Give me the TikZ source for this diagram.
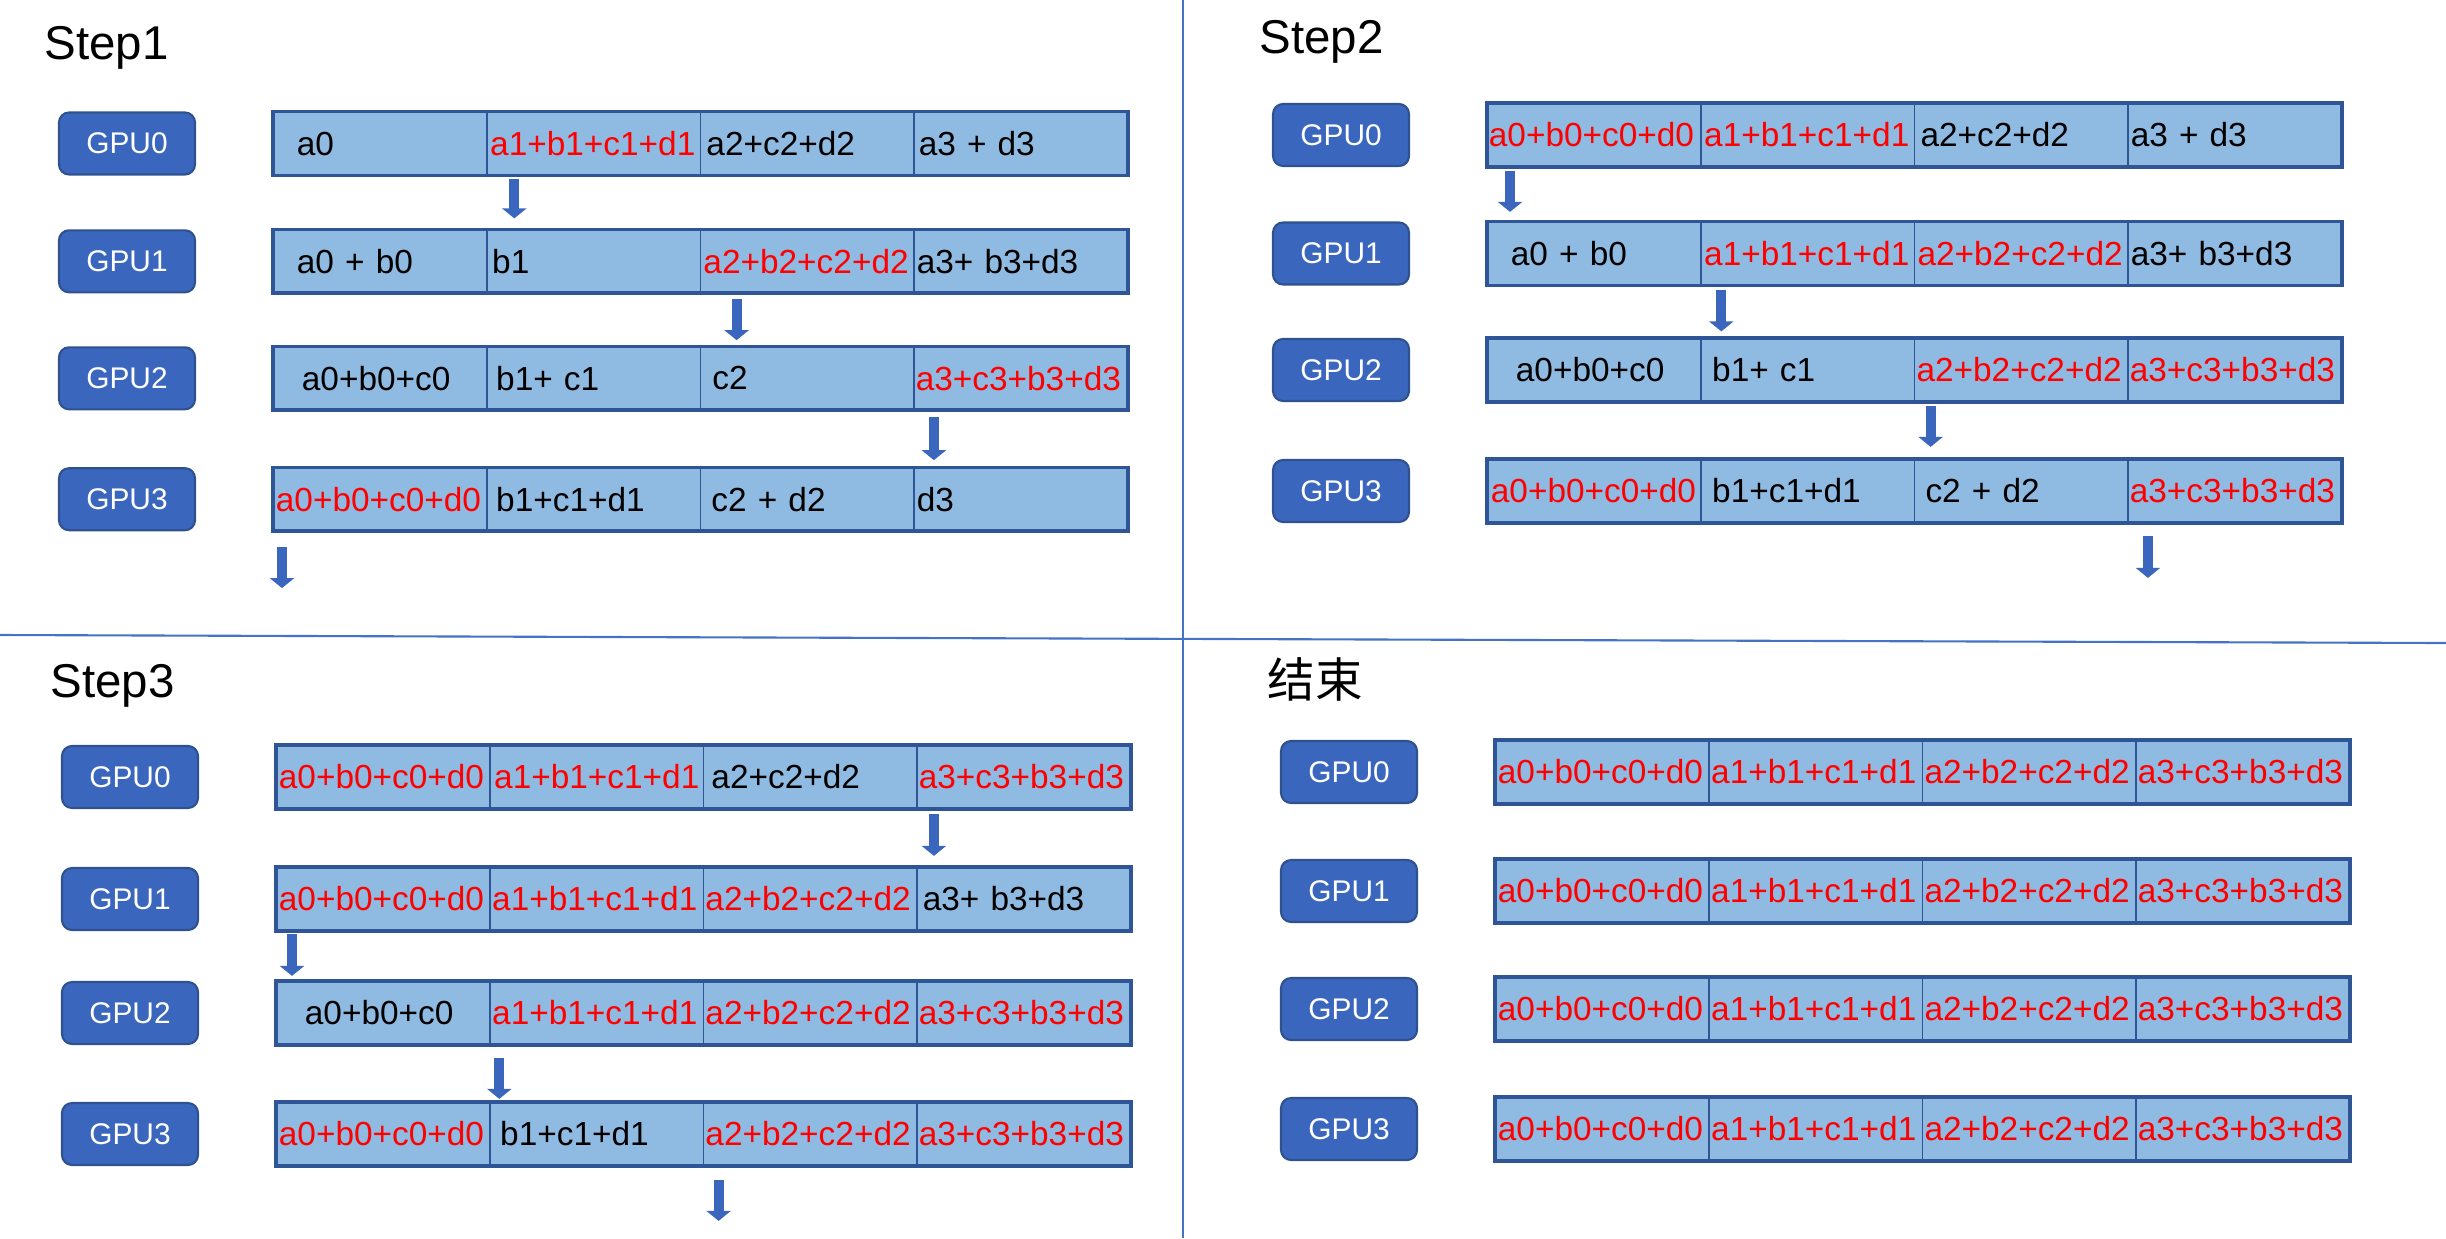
\documentclass[tikz,border=0pt]{standalone}
\usepackage{fontspec}
\setmainfont{Liberation Sans}
\newfontfamily\cjk{Noto Sans CJK SC}
\usetikzlibrary{arrows.meta}

\definecolor{barfill}{HTML}{8FBAE1}
\definecolor{barline}{HTML}{2F5597}
\definecolor{gpufill}{HTML}{3A67BD}
\definecolor{gpuline}{HTML}{2F528F}
\definecolor{sepline}{HTML}{4472C4}

% one GPU with its four chunks: name, x of GPU box, y, label, chunks (text/colour/pad)
\newcommand{\gpurow}[5]{%
  \node[gpubox] (#1g) at (#2,#3) {#4};
  \foreach \txt/\clr/\pd [count=\i from 0] in {#5} {
    \pgfmathsetmacro{\xx}{#2+1.46+\i*2.133}
    \pgfmathsetmacro{\tw}{2.133-2*\pd}
    \node[chunk, text=\clr, inner xsep=\pd cm, text width=\tw cm] (#1c\i) at (\xx,#3) {\txt};
  }
  \draw[barframe] (#1c0.north west) rectangle (#1c3.south east);
}

\begin{document}
\begin{tikzpicture}[
    gpubox/.style={draw=gpuline, line width=0.6pt, fill=gpufill, rounded corners=0.1cm,
      minimum width=1.36cm, minimum height=0.62cm, text=white, font=\fontsize{8.5}{10}\selectfont},
    chunk/.style={draw=barline, line width=0.5pt, fill=barfill, anchor=west, align=left,
      minimum height=0.62cm, inner ysep=0pt, font=\fontsize{9.5}{11}\selectfont},
    barframe/.style={draw=barline, line width=1pt},
    title/.style={anchor=west, inner xsep=0pt, font=\fontsize{13.5}{16}\selectfont},
    arr/.style={draw=gpufill, line width=0.1cm, -{Triangle[width=0.24cm,length=0.1cm]}}
  ]
  \useasboundingbox (0,0) rectangle (24.46,-12.38);

  % Separators
  \draw[sepline, line width=0.6pt] (11.83,0) -- (11.83,-12.38);
  \draw[sepline, line width=0.6pt] (0,-6.35) -- (24.46,-6.43);

  % Step1
  \node[title] (t1) at (0.44,-0.48) {Step1};
  \gpurow{p1r0}{1.27}{-1.435}{GPU0}{a0/black/0.23, a1+b1+c1+d1/red/0.03, a2+c2+d2/black/0.06, a3 + d3/black/0.05}
  \gpurow{p1r1}{1.27}{-2.613}{GPU1}{a0 + b0/black/0.23, b1/black/0.05, a2+b2+c2+d2/red/0.03, a3+ b3+d3/black/0.03}
  \gpurow{p1r2}{1.27}{-3.783}{GPU2}{a0+b0+c0/black/0.28, b1+ c1/black/0.09, c2/black/0.12, a3+c3+b3+d3/red/0.02}
  \gpurow{p1r3}{1.27}{-4.992}{GPU3}{a0+b0+c0+d0/red/0.02, b1+c1+d1/black/0.09, c2 + d2/black/0.11, d3/black/0.03}
  \draw[arr] ([xshift=0.28cm,yshift=-0.04cm]p1r0c1.south west) -- ++(0,-0.39);
  \draw[arr] ([xshift=0.37cm,yshift=-0.06cm]p1r1c2.south west) -- ++(0,-0.41);
  \draw[arr] ([xshift=0.21cm,yshift=-0.07cm]p1r2c3.south west) -- ++(0,-0.43);
  \draw[arr] ([xshift=0.09cm,yshift=-0.16cm]p1r3c0.south west) -- ++(0,-0.41);

  % Step2
  \node[title] (t2) at (12.59,-0.42) {Step2};
  \gpurow{p2r0}{13.41}{-1.35}{GPU0}{a0+b0+c0+d0/red/0.01, a1+b1+c1+d1/red/0.03, a2+c2+d2/black/0.06, a3 + d3/black/0.03}
  \gpurow{p2r1}{13.41}{-2.535}{GPU1}{a0 + b0/black/0.23, a1+b1+c1+d1/red/0.03, a2+b2+c2+d2/red/0.03, a3+ b3+d3/black/0.03}
  \gpurow{p2r2}{13.41}{-3.70}{GPU2}{a0+b0+c0/black/0.28, b1+ c1/black/0.11, a2+b2+c2+d2/red/0.02, a3+c3+b3+d3/red/0.02}
  \gpurow{p2r3}{13.41}{-4.91}{GPU3}{a0+b0+c0+d0/red/0.03, b1+c1+d1/black/0.11, c2 + d2/black/0.11, a3+c3+b3+d3/red/0.02}
  \draw[arr] ([xshift=0.23cm,yshift=-0.04cm]p2r0c0.south west) -- ++(0,-0.41);
  \draw[arr] ([xshift=0.21cm,yshift=-0.05cm]p2r1c1.south west) -- ++(0,-0.41);
  \draw[arr] ([xshift=0.17cm,yshift=-0.04cm]p2r2c2.south west) -- ++(0,-0.41);
  \draw[arr] ([xshift=0.21cm,yshift=-0.13cm]p2r3c3.south west) -- ++(0,-0.42);

  % Step3
  \node[title] (t3) at (0.50,-6.86) {Step3};
  \gpurow{p3r0}{1.30}{-7.77}{GPU0}{a0+b0+c0+d0/red/0.02, a1+b1+c1+d1/red/0.04, a2+c2+d2/black/0.08, a3+c3+b3+d3/red/0.02}
  \gpurow{p3r1}{1.30}{-8.99}{GPU1}{a0+b0+c0+d0/red/0.02, a1+b1+c1+d1/red/0.02, a2+b2+c2+d2/red/0.02, a3+ b3+d3/black/0.06}
  \gpurow{p3r2}{1.30}{-10.13}{GPU2}{a0+b0+c0/black/0.28, a1+b1+c1+d1/red/0.02, a2+b2+c2+d2/red/0.02, a3+c3+b3+d3/red/0.02}
  \gpurow{p3r3}{1.30}{-11.34}{GPU3}{a0+b0+c0+d0/red/0.02, b1+c1+d1/black/0.10, a2+b2+c2+d2/red/0.02, a3+c3+b3+d3/red/0.02}
  \draw[arr] ([xshift=0.18cm,yshift=-0.05cm]p3r0c3.south west) -- ++(0,-0.42);
  \draw[arr] ([xshift=0.16cm,yshift=-0.03cm]p3r1c0.south west) -- ++(0,-0.42);
  \draw[arr] ([xshift=0.10cm,yshift=-0.13cm]p3r2c1.south west) -- ++(0,-0.41);
  \draw[arr] ([xshift=0.16cm,yshift=-0.14cm]p3r3c2.south west) -- ++(0,-0.41);

  % End
  \node[title] (t4) at (12.67,-6.79) {\cjk 结束};
  \gpurow{p4r0}{13.49}{-7.72}{GPU0}{a0+b0+c0+d0/red/0.02, a1+b1+c1+d1/red/0.02, a2+b2+c2+d2/red/0.02, a3+c3+b3+d3/red/0.02}
  \gpurow{p4r1}{13.49}{-8.91}{GPU1}{a0+b0+c0+d0/red/0.02, a1+b1+c1+d1/red/0.02, a2+b2+c2+d2/red/0.02, a3+c3+b3+d3/red/0.02}
  \gpurow{p4r2}{13.49}{-10.09}{GPU2}{a0+b0+c0+d0/red/0.02, a1+b1+c1+d1/red/0.02, a2+b2+c2+d2/red/0.02, a3+c3+b3+d3/red/0.02}
  \gpurow{p4r3}{13.49}{-11.29}{GPU3}{a0+b0+c0+d0/red/0.02, a1+b1+c1+d1/red/0.02, a2+b2+c2+d2/red/0.02, a3+c3+b3+d3/red/0.02}
\end{tikzpicture}
\end{document}
